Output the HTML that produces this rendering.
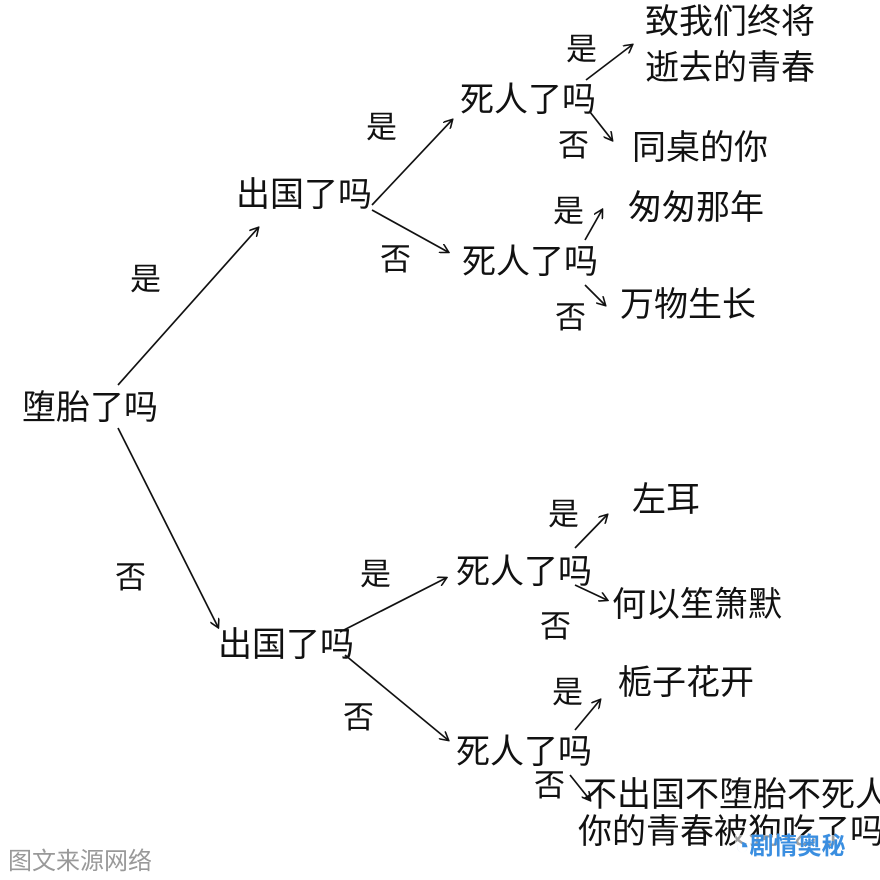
<!DOCTYPE html>
<html><head><meta charset="utf-8"><style>
body{margin:0;width:880px;height:880px;background:#fff;position:relative;overflow:hidden;font-family:"Liberation Sans","Noto Sans CJK SC",sans-serif;color:#111}
.t{position:absolute;font-size:34px;line-height:34px;white-space:nowrap}
.s{font-size:31px;line-height:31px}
svg{position:absolute;left:0;top:0}
</style></head><body>
<svg width="880" height="880"><defs><marker id="a" markerWidth="10" markerHeight="10" refX="8" refY="5" orient="auto" markerUnits="userSpaceOnUse"><path d="M0,0 L9,5 L0,10" fill="none" stroke="#111" stroke-width="1.6"/></marker></defs>
<g stroke="#111" stroke-width="1.7" fill="none" marker-end="url(#a)">
<line x1="118" y1="385" x2="258" y2="228"/>
<line x1="118" y1="428" x2="218" y2="627"/>
<line x1="372" y1="205" x2="452" y2="120"/>
<line x1="372" y1="210" x2="448" y2="252"/>
<line x1="340" y1="632" x2="446" y2="578"/>
<line x1="345" y1="655" x2="448" y2="740"/>
<line x1="586" y1="80" x2="632" y2="45"/>
<line x1="590" y1="112" x2="612" y2="140"/>
<line x1="585" y1="240" x2="602" y2="210"/>
<line x1="585" y1="285" x2="605" y2="305"/>
<line x1="575" y1="548" x2="607" y2="515"/>
<line x1="575" y1="585" x2="607" y2="600"/>
<line x1="575" y1="730" x2="600" y2="700"/>
<line x1="570" y1="775" x2="590" y2="800"/>
</g></svg>
<div class="t" style="left:22px;top:391px">堕胎了吗</div>
<div class="t s" style="left:130px;top:264px">是</div>
<div class="t s" style="left:115px;top:562px">否</div>
<div class="t" style="left:236px;top:178px">出国了吗</div>
<div class="t" style="left:218px;top:628px">出国了吗</div>
<div class="t s" style="left:366px;top:112px">是</div>
<div class="t s" style="left:380px;top:244px">否</div>
<div class="t" style="left:460px;top:83px">死人了吗</div>
<div class="t" style="left:462px;top:245px">死人了吗</div>
<div class="t s" style="left:566px;top:34px">是</div>
<div class="t s" style="left:558px;top:130px">否</div>
<div class="t" style="left:645px;top:5px">致我们终将</div>
<div class="t" style="left:645px;top:51px">逝去的青春</div>
<div class="t" style="left:632px;top:131px">同桌的你</div>
<div class="t s" style="left:553px;top:196px">是</div>
<div class="t s" style="left:555px;top:302px">否</div>
<div class="t" style="left:628px;top:191px">匆匆那年</div>
<div class="t" style="left:620px;top:288px">万物生长</div>
<div class="t s" style="left:360px;top:559px">是</div>
<div class="t s" style="left:343px;top:702px">否</div>
<div class="t" style="left:456px;top:555px">死人了吗</div>
<div class="t" style="left:456px;top:735px">死人了吗</div>
<div class="t s" style="left:548px;top:499px">是</div>
<div class="t s" style="left:540px;top:611px">否</div>
<div class="t" style="left:632px;top:483px">左耳</div>
<div class="t" style="left:612px;top:588px">何以笙箫默</div>
<div class="t s" style="left:552px;top:677px">是</div>
<div class="t s" style="left:534px;top:770px">否</div>
<div class="t" style="left:618px;top:666px">栀子花开</div>
<div class="t" style="left:583px;top:778px">不出国不堕胎不死人</div>
<div class="t" style="left:578px;top:815px">你的青春被狗吃了吗</div>
<div class="t" style="left:8px;top:850px;font-size:24px;line-height:24px;color:#999">图文来源网络</div>
<div class="t" style="left:735px;top:835px;font-size:24px;line-height:24px;color:#3a8ee0;font-weight:bold;background:rgba(255,255,255,0.6)">◔剧情奥秘</div>
</body></html>
